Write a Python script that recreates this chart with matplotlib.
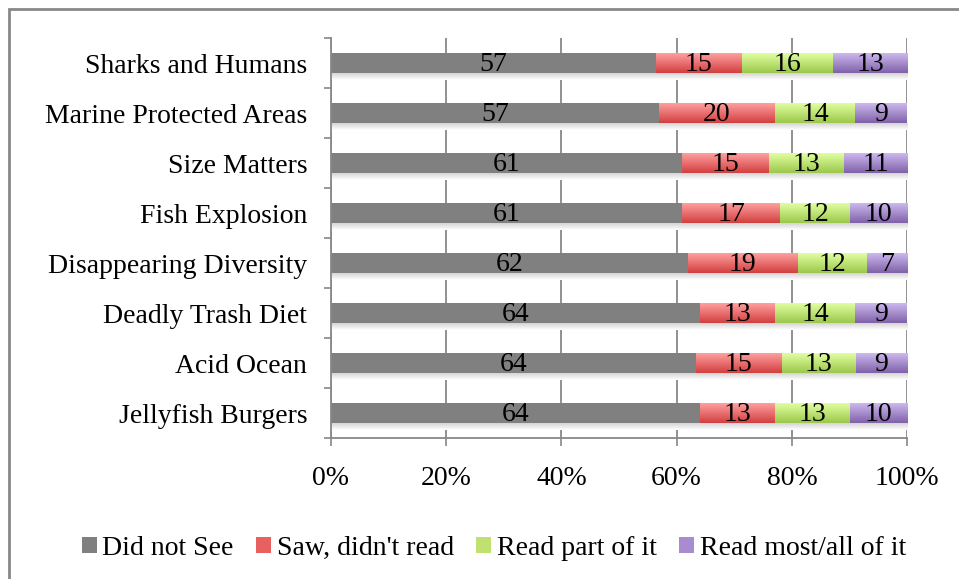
import numpy as np
import matplotlib.pyplot as plt
from matplotlib.colors import LinearSegmentedColormap
from matplotlib.patches import Rectangle, Patch

plt.rcParams['font.family'] = ['Liberation Serif', 'DejaVu Serif']

# Data (top to bottom as shown)
topics = ["Sharks and Humans", "Marine Protected Areas", "Size Matters", "Fish Explosion",
          "Disappearing Diversity", "Deadly Trash Diet", "Acid Ocean", "Jellyfish Burgers"]
did_not_see = [57, 57, 61, 61, 62, 64, 64, 64]
saw_not_read = [15, 20, 15, 17, 19, 13, 15, 13]
read_part = [16, 14, 13, 12, 12, 14, 13, 13]
read_most = [13, 9, 11, 10, 7, 9, 9, 10]
series_names = ["Did not See", "Saw, didn't read", "Read part of it", "Read most/all of it"]

# colours: (top, bottom) for gradient fills
grads = [("#808080", "#808080"), ("#FF9F9F", "#D24040"),
         ("#E0FFA0", "#9CC84C"), ("#CDB8EE", "#7F62A8")]

fig = plt.figure(figsize=(9.59, 5.79), dpi=100)
ax = fig.add_axes([0.345, 0.2435, 0.601, 0.6905])

vals = np.array([did_not_see, saw_not_read, read_part, read_most], dtype=float)
pct = vals / vals.sum(axis=0) * 100
ypos = np.arange(len(topics))[::-1]
bh = 0.4

# soft shadow under bars
shade = LinearSegmentedColormap.from_list("sh", ["#d4d4d4", "#ffffff"])
for y in ypos:
    ax.imshow(np.linspace(0, 1, 20).reshape(-1, 1), cmap=shade, aspect='auto',
              extent=[0, 100, y - bh / 2 - 0.14, y - bh / 2], zorder=1, origin='upper')

left = np.zeros(len(topics))
for i in range(4):
    bars = ax.barh(ypos, pct[i], left=left, height=bh, color=grads[i][0], zorder=2)
    if grads[i][0] != grads[i][1]:
        cmap = LinearSegmentedColormap.from_list("g%d" % i, [grads[i][0], grads[i][1]])
        for b in bars:
            x0, y0 = b.get_x(), b.get_y()
            im = ax.imshow(np.linspace(0, 1, 50).reshape(-1, 1), cmap=cmap, aspect='auto',
                           extent=[x0, x0 + b.get_width(), y0, y0 + bh], zorder=3, origin='upper')
            im.set_clip_path(b)
    for j, b in enumerate(bars):
        ax.text(left[j] + pct[i][j] / 2, ypos[j] - 0.02, "%d" % vals[i][j], ha='center',
                va='center', fontsize=20, color='black', zorder=4)
    left += pct[i]

ax.set_xlim(0, 100)
ax.set_ylim(-0.5, len(topics) - 0.5)
ax.set_xticks(np.arange(0, 101, 20))
ax.set_xticklabels(["%d%%" % t for t in range(0, 101, 20)], fontsize=20)
ax.set_yticks(ypos)
ax.set_yticklabels(topics, fontsize=20)
ax.set_yticks(np.arange(-0.5, len(topics), 1), minor=True)
ax.tick_params(axis='y', which='major', length=0, pad=17)
ax.tick_params(axis='y', which='minor', length=5, color='#888888', width=1.2)
ax.tick_params(axis='x', length=6, color='#888888', width=1.2, pad=14)
ax.grid(axis='x', color='#888888', linewidth=1.3, zorder=0)
ax.set_axisbelow(True)
for s in ['top', 'right']:
    ax.spines[s].set_visible(False)
for s in ['left', 'bottom']:
    ax.spines[s].set_color('#888888')
    ax.spines[s].set_linewidth(1.3)

handles = [Patch(facecolor=c) for c in ["#808080", "#E86060", "#C0E070", "#A98CD0"]]
fig.legend(handles, series_names, loc='center', bbox_to_anchor=(0.515, 0.053), ncol=4,
           frameon=False, fontsize=20, handlelength=0.55, handleheight=0.55,
           handletextpad=0.2, columnspacing=0.8)

# outer chart frame
fig.patches.append(Rectangle((0.0094, -0.05), 1.2, 1.034, transform=fig.transFigure,
                             fill=False, edgecolor='#888888', linewidth=2))

fig.savefig("out.png", dpi=100)
